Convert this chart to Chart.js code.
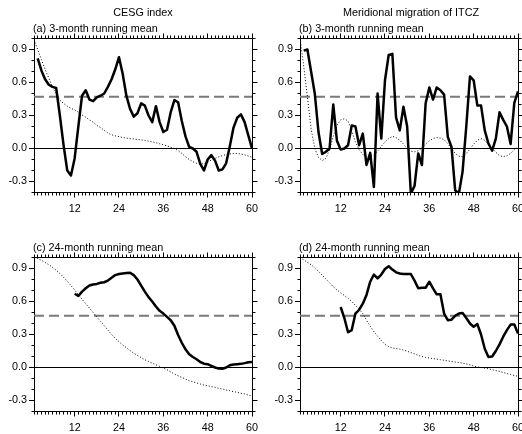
<!DOCTYPE html>
<html>
<head>
<meta charset="utf-8">
<script src="https://cdn.jsdelivr.net/npm/chart.js@4.4.1/dist/chart.umd.min.js"></script>
<style>
  html, body { margin: 0; padding: 0; background: #fff; }
  body { width: 522px; height: 434px; position: relative; overflow: hidden; }
  .panel { position: absolute; width: 261px; height: 215px; }
  .panel canvas { display: block; }
</style>
</head>
<body>
<div class="panel" style="left:0;top:0"><canvas id="pa" width="261" height="215"></canvas></div>
<div class="panel" style="left:261px;top:0"><canvas id="pb" width="261" height="215"></canvas></div>
<div class="panel" style="left:0;top:219px"><canvas id="pc" width="261" height="215"></canvas></div>
<div class="panel" style="left:261px;top:219px"><canvas id="pd" width="261" height="215"></canvas></div>
<script>
// Lag in months
const lags = [1,2,3,4,5,6,7,8,9,10,11,12,13,14,15,16,17,18,19,20,
              21,22,23,24,25,26,27,28,29,30,31,32,33,34,35,36,37,38,39,40,
              41,42,43,44,45,46,47,48,49,50,51,52,53,54,55,56,57,58,59,60];
const xMajorTicks = [12, 24, 36, 48, 60];
const yMajorTicks = [-0.3, 0.0, 0.3, 0.6, 0.9];
const yMinorTicks = [-0.4,-0.3,-0.2,-0.1,0.0,0.1,0.2,0.3,0.4,0.5,0.6,0.7,0.8,0.9,1.0];
const significance = 0.47;
const zeroLevel = 0.0;

// CESG index, 3-month running mean
const cesg3 = [null,0.82,0.71,0.63,0.58,0.56,0.55,0.30,0.03,-0.20,
  -0.245,-0.09,0.20,0.48,0.53,0.445,0.43,0.465,0.48,0.50,
  0.56,0.63,0.72,0.83,0.68,0.48,0.36,0.29,0.32,0.41,
  0.39,0.30,0.24,0.385,0.24,0.15,0.17,0.33,0.44,0.42,
  0.25,0.11,0.015,0.0,-0.03,-0.14,-0.20,-0.10,-0.06,-0.11,
  -0.20,-0.19,-0.135,0.02,0.19,0.28,0.31,0.24,0.12,0.0];
const cesg3Auto = [0.99,0.90,0.81,0.72,0.64,0.56,0.495,0.44,0.41,0.385,
  0.365,0.35,0.33,0.305,0.285,0.26,0.24,0.21,0.19,0.165,
  0.14,0.125,0.115,0.108,0.10,0.095,0.09,0.087,0.083,0.078,
  0.073,0.067,0.06,0.052,0.043,0.034,0.024,0.012,0.0,-0.02,
  -0.045,-0.075,-0.10,-0.12,-0.135,-0.14,-0.138,-0.125,-0.105,-0.09,
  -0.075,-0.065,-0.055,-0.05,-0.045,-0.045,-0.05,-0.058,-0.068,-0.08];

// ITCZ meridional migration, 3-month running mean
const itcz3 = [null,0.89,0.90,0.70,0.50,0.15,-0.05,-0.03,0.0,0.40,
  0.07,-0.01,0.0,0.03,0.21,0.20,0.03,0.135,-0.15,-0.04,
  -0.35,0.50,0.09,0.62,0.85,0.86,0.28,0.165,0.38,0.20,
  -0.41,-0.34,-0.045,-0.15,0.41,0.555,0.445,0.555,0.53,0.49,
  0.105,0.015,-0.38,-0.41,-0.21,0.20,0.655,0.62,0.39,0.39,
  0.165,0.045,-0.02,0.09,0.33,0.26,0.20,0.04,0.415,0.52];
const itcz3Auto = [1.0,0.75,0.47,0.18,0.0,-0.08,-0.11,-0.09,-0.01,0.11,
  0.21,0.26,0.27,0.25,0.16,0.06,-0.01,-0.055,-0.07,-0.07,
  -0.055,-0.025,0.02,0.06,0.09,0.11,0.10,0.075,0.04,0.0,
  -0.025,-0.03,-0.02,0.005,0.04,0.07,0.09,0.10,0.095,0.08,
  0.045,0.0,-0.045,-0.07,-0.075,-0.045,-0.005,0.04,0.075,0.09,
  0.075,0.035,0.0,-0.035,-0.065,-0.075,-0.065,-0.045,-0.01,0.01];

// CESG index, 24-month running mean
const cesg24 = [null,null,null,null,null,null,null,null,null,null,
  null,0.67,0.65,0.69,0.72,0.745,0.755,0.76,0.77,0.775,
  0.79,0.815,0.84,0.85,0.855,0.86,0.862,0.84,0.80,0.745,
  0.69,0.64,0.60,0.555,0.515,0.49,0.46,0.43,0.38,0.295,
  0.225,0.165,0.12,0.095,0.075,0.05,0.035,0.03,0.015,0.0,
  -0.01,-0.012,0.0,0.02,0.027,0.03,0.033,0.04,0.048,0.05];
const cesg24Auto = [1.0,0.99,0.975,0.955,0.935,0.91,0.885,0.855,0.82,0.785,
  0.745,0.705,0.665,0.62,0.58,0.54,0.50,0.46,0.42,0.38,
  0.34,0.30,0.265,0.235,0.205,0.18,0.155,0.13,0.11,0.09,
  0.07,0.055,0.04,0.025,0.01,-0.005,-0.02,-0.04,-0.06,-0.075,
  -0.09,-0.105,-0.12,-0.13,-0.14,-0.15,-0.16,-0.165,-0.175,-0.18,
  -0.19,-0.195,-0.205,-0.21,-0.22,-0.225,-0.235,-0.24,-0.25,-0.26];

// ITCZ meridional migration, 24-month running mean
const itcz24 = [null,null,null,null,null,null,null,null,null,null,
  null,0.55,0.45,0.32,0.34,0.49,0.525,0.58,0.66,0.78,
  0.845,0.81,0.845,0.895,0.92,0.89,0.865,0.855,0.85,0.85,
  0.85,0.79,0.72,0.725,0.725,0.78,0.72,0.665,0.665,0.49,
  0.43,0.435,0.47,0.49,0.495,0.45,0.40,0.37,0.395,0.30,
  0.17,0.095,0.10,0.15,0.21,0.28,0.34,0.39,0.39,0.31];
const itcz24Auto = [1.0,0.98,0.955,0.935,0.905,0.875,0.84,0.805,0.77,0.735,
  0.705,0.68,0.655,0.63,0.60,0.565,0.53,0.49,0.43,0.375,
  0.325,0.285,0.245,0.21,0.19,0.178,0.172,0.167,0.158,0.148,
  0.135,0.125,0.11,0.10,0.092,0.086,0.081,0.076,0.071,0.066,
  0.06,0.055,0.05,0.045,0.04,0.033,0.024,0.013,0.006,0.0,
  -0.006,-0.012,-0.02,-0.028,-0.036,-0.045,-0.055,-0.064,-0.072,-0.08];

const FONT = '"Liberation Sans", Arial, Helvetica, sans-serif';
const FONT_SIZE = 10.8;

function alignPx(p) { return Math.round(p - 0.5) + 0.5; }
const isMajor = (list, v) => list.some(t => Math.abs(t - v) < 1e-9);

// Closes the frame and adds minor/mirrored tick marks on all four sides
const framePlugin = {
  id: 'frame',
  afterDraw(chart) {
    const { ctx, chartArea: a, scales } = chart;
    const xs = scales.x, ys = scales.y;
    const L = alignPx(a.left), R = alignPx(a.right), T = alignPx(a.top), B = alignPx(a.bottom);
    ctx.save();
    ctx.strokeStyle = '#000';
    ctx.lineWidth = 1;
    ctx.beginPath();
    ctx.moveTo(L, T); ctx.lineTo(R, T); ctx.lineTo(R, B);
    lags.forEach(m => {
      const px = alignPx(xs.getPixelForValue(m));
      const major = isMajor(xMajorTicks, m);
      if (!major) { ctx.moveTo(px, B); ctx.lineTo(px, B + 3); }
      ctx.moveTo(px, T); ctx.lineTo(px, T - (major ? 5 : 3));
    });
    yMinorTicks.forEach(v => {
      const py = alignPx(ys.getPixelForValue(v));
      const major = isMajor(yMajorTicks, v);
      if (!major) { ctx.moveTo(L, py); ctx.lineTo(L - 3, py); }
      ctx.moveTo(R, py); ctx.lineTo(R + (major ? 5 : 3), py);
    });
    ctx.stroke();
    ctx.restore();
  }
};

// Column heading and panel label
const textPlugin = {
  id: 'panelText',
  afterDraw(chart, args, opts) {
    const { ctx, chartArea: a } = chart;
    ctx.save();
    ctx.fillStyle = '#000';
    ctx.font = FONT_SIZE + 'px ' + FONT;
    ctx.textBaseline = 'alphabetic';
    if (opts.header) {
      ctx.textAlign = 'center';
      ctx.fillText(opts.header, (a.left + a.right) / 2 + (opts.headerShift || 0), 16);
    }
    ctx.textAlign = 'left';
    ctx.fillText(opts.title, a.left - 1, a.top - 7);
    ctx.restore();
  }
};

function drawPanel(id, p) {
  const series = vals => lags.map((m, i) => ({ x: m, y: vals[i] }));
  const level = v => [{ x: lags[0], y: v }, { x: lags[lags.length - 1], y: v }];
  const tickFont = { family: FONT, size: FONT_SIZE };
  return new Chart(document.getElementById(id), {
    type: 'line',
    data: {
      datasets: [
        { data: series(p.solid), borderColor: '#000', borderWidth: 2.5, pointRadius: 0,
          tension: 0, order: 0, clip: 0, borderJoinStyle: 'round', spanGaps: false },
        { data: series(p.dotted), borderColor: '#000', borderWidth: 1, borderDash: [1, 2],
          pointRadius: 0, tension: 0, order: 1, clip: 0 },
        { data: level(zeroLevel), borderColor: '#000', borderWidth: 1, pointRadius: 0, order: 2, clip: 0 },
        { data: level(significance), borderColor: '#7a7a7a', borderWidth: 2, borderDash: [10, 5],
          pointRadius: 0, order: 3, clip: 0 }
      ]
    },
    options: {
      responsive: false,
      animation: false,
      devicePixelRatio: 1,
      parsing: false,
      normalized: true,
      layout: { padding: { left: 0, top: 38.5, right: p.padRight, bottom: 0 } },
      plugins: {
        legend: { display: false },
        tooltip: { enabled: false },
        panelText: { header: p.header, title: p.title, headerShift: p.headerShift }
      },
      scales: {
        x: {
          type: 'linear', min: 1, max: 60,
          afterBuildTicks: s => { s.ticks = xMajorTicks.map(v => ({ value: v })); },
          afterFit: s => { s.height = 22.5; s.paddingLeft = 0; s.paddingRight = 0; },
          grid: { drawOnChartArea: false, drawTicks: true, tickLength: 5, color: '#000', lineWidth: 1 },
          border: { display: true, color: '#000', width: 1 },
          ticks: { color: '#000', font: tickFont, padding: 5, maxRotation: 0, autoSkip: false,
                   callback: v => String(v) }
        },
        y: {
          type: 'linear', min: -0.4, max: 1.0,
          afterBuildTicks: s => { s.ticks = yMajorTicks.map(v => ({ value: v })); },
          afterFit: s => { s.width = p.yWidth; s.paddingTop = 0; s.paddingBottom = 0; },
          grid: { drawOnChartArea: false, drawTicks: true, tickLength: 5, color: '#000', lineWidth: 1 },
          border: { display: true, color: '#000', width: 1 },
          ticks: { color: '#000', font: tickFont, padding: 2, autoSkip: false,
                   callback: v => v.toFixed(1) }
        }
      }
    },
    plugins: [framePlugin, textPlugin]
  });
}

drawPanel('pa', { solid: cesg3, dotted: cesg3Auto, yWidth: 34, padRight: 9,
  header: 'CESG index', title: '(a) 3-month running mean' });
drawPanel('pb', { solid: itcz3, dotted: itcz3Auto, yWidth: 39, padRight: 4,
  header: 'Meridional migration of ITCZ', headerShift: 2, title: '(b) 3-month running mean' });
drawPanel('pc', { solid: cesg24, dotted: cesg24Auto, yWidth: 34, padRight: 9,
  title: '(c) 24-month running mean' });
drawPanel('pd', { solid: itcz24, dotted: itcz24Auto, yWidth: 39, padRight: 4,
  title: '(d) 24-month running mean' });
</script>
</body>
</html>
